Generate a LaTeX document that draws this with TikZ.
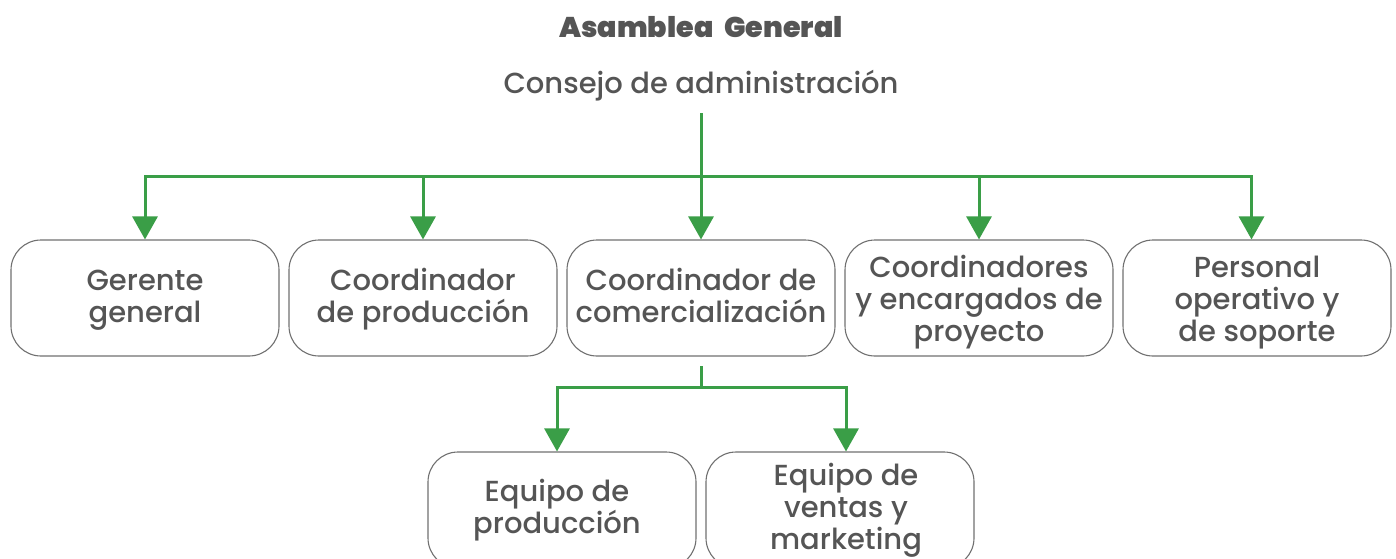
\documentclass[tikz,border=0pt]{standalone}
\usepackage{fontspec}
\setmainfont{Poppins}
\newfontfamily\medfont{Poppins Medium}
\newfontfamily\blackfont{Poppins Black}
\usetikzlibrary{arrows.meta}
\definecolor{lgreen}{HTML}{3A9E47}
\definecolor{txtgray}{HTML}{555555}
\definecolor{boxgray}{HTML}{707070}
\newcommand\mlines[1]{\begin{tabular}[t]{@{}c@{}}#1\end{tabular}}
\tikzset{
  box/.style={draw=boxgray, line width=1.1pt, rounded corners=30pt,
    minimum width=268pt, minimum height=116pt, inner sep=0pt},
  lbl/.style={inner sep=0pt, anchor=base, text=txtgray,
    font=\medfont\fontsize{29}{32}\selectfont},
  conn/.style={draw=lgreen, line width=3pt},
  arr/.style={conn, -{Triangle[width=25pt,length=23pt]}}
}
\begin{document}
\begin{tikzpicture}[x=1pt,y=-1pt]
\useasboundingbox (0,0) rectangle (1396,558);
\node[inner sep=0pt, anchor=base, text=txtgray, font=\blackfont\fontsize{28.5}{34}\selectfont] (title) at (701,37) {Asamblea\hspace{11pt}General};
\node[lbl] (consejo) at (701,93) {Consejo de administración};
\node[box] (b1) at (145,298) {};
\node[box] (b2) at (423,298) {};
\node[box] (b3) at (701,298) {};
\node[box] (b4) at (979,298) {};
\node[box] (b5) at (1257,298) {};
\node[box] (b6) at (562,510) {};
\node[box] (b7) at (840,510) {};
\node[lbl] (t1) at (145,290) {\mlines{Gerente\\general}};
\node[lbl] (t2) at (423,290) {\mlines{Coordinador\\de producción}};
\node[lbl] (t3) at (701,290) {\mlines{Coordinador de\\comercialización}};
\node[lbl] (t4) at (979,277) {\mlines{Coordinadores\\y encargados de\\proyecto}};
\node[lbl] (t5) at (1257,277) {\mlines{Personal\\operativo y\\de soporte}};
\node[lbl] (t6) at (557,501) {\mlines{Equipo de\\producción}};
\node[lbl] (t7) at (846,485) {\mlines{Equipo de\\ventas y\\marketing}};
\coordinate (c0) at (701,113);
\coordinate (j0) at (701,176);
\coordinate (c1) at (701,366);
\coordinate (j1) at (701,387);
\draw[conn] (c0) -- (j0);
\draw[arr] (j0) -| (b1.north);
\draw[arr] (j0) -| (b2.north);
\draw[arr] (j0) -- (b3.north);
\draw[arr] (j0) -| (b4.north);
\draw[arr] (j0) -| ([xshift=-5.5pt]b5.north);
\draw[conn] (c1) -- (j1);
\draw[arr] (j1) -| ([xshift=-5pt]b6.north);
\draw[arr] (j1) -| ([xshift=6pt]b7.north);
\end{tikzpicture}
\end{document}
